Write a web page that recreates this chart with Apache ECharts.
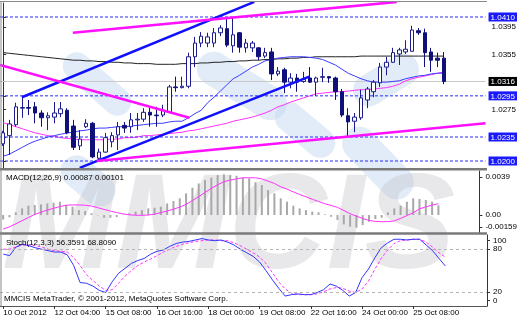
<!DOCTYPE html>
<html><head><meta charset="utf-8">
<script src="https://cdn.jsdelivr.net/npm/echarts@6/dist/echarts.min.js"></script>
<style>html,body{margin:0;padding:0;background:#fff}#c{width:520px;height:320px}</style>
</head><body><div id="c"></div><script>
const categories = ['10 Oct 20:00','11 Oct 00:00','11 Oct 04:00','11 Oct 08:00','11 Oct 12:00','11 Oct 16:00','11 Oct 20:00','12 Oct 00:00',
'12 Oct 04:00','12 Oct 08:00','12 Oct 12:00','12 Oct 16:00','12 Oct 20:00','14 Oct 20:00','15 Oct 00:00','15 Oct 04:00',
'15 Oct 08:00','15 Oct 12:00','15 Oct 16:00','15 Oct 20:00','16 Oct 00:00','16 Oct 04:00','16 Oct 08:00','16 Oct 12:00',
'16 Oct 16:00','16 Oct 20:00','17 Oct 00:00','17 Oct 04:00','17 Oct 08:00','17 Oct 12:00','17 Oct 16:00','17 Oct 20:00',
'18 Oct 00:00','18 Oct 04:00','18 Oct 08:00','18 Oct 12:00','18 Oct 16:00','18 Oct 20:00','19 Oct 00:00','19 Oct 04:00',
'19 Oct 08:00','19 Oct 12:00','19 Oct 16:00','19 Oct 20:00','22 Oct 00:00','22 Oct 04:00','22 Oct 08:00','22 Oct 12:00',
'22 Oct 16:00','22 Oct 20:00','23 Oct 00:00','23 Oct 04:00','23 Oct 08:00','23 Oct 12:00','23 Oct 16:00','23 Oct 20:00',
'24 Oct 00:00','24 Oct 04:00','24 Oct 08:00','24 Oct 12:00','24 Oct 16:00','24 Oct 20:00','25 Oct 00:00','25 Oct 04:00',
'25 Oct 08:00','25 Oct 12:00','25 Oct 16:00','25 Oct 20:00','26 Oct 00:00','26 Oct 04:00',
'26 Oct 08:00','26 Oct 12:00','26 Oct 16:00','26 Oct 20:00','29 Oct 00:00','29 Oct 04:00'];
const xTickLabels = ['10 Oct 2012','12 Oct 04:00','15 Oct 08:00','16 Oct 16:00','18 Oct 00:00','19 Oct 08:00','22 Oct 16:00','24 Oct 00:00','25 Oct 08:00'];

// [open, close, low, high]
const candles = [
[1.0225,1.0241,1.0222,1.0244],[1.0237,1.0254,1.0209,1.0260],[1.0253,1.0279,1.0250,1.0285],[1.0277,1.0278,1.0263,1.0295],
[1.0278,1.0277,1.0267,1.0289],[1.0279,1.0270,1.0255,1.0286],[1.0270,1.0263,1.0250,1.0274],[1.0263,1.0266,1.0245,1.0271],
[1.0264,1.0270,1.0255,1.0286],[1.0269,1.0276,1.0264,1.0286],[1.0274,1.0241,1.0239,1.0277],[1.0251,1.0220,1.0216,1.0260],
[1.0222,1.0232,1.0216,1.0245],[1.0250,1.0255,1.0248,1.0261],[1.0255,1.0206,1.0204,1.0257],[1.0204,1.0213,1.0202,1.0218],
[1.0213,1.0234,1.0212,1.0241],[1.0228,1.0237,1.0220,1.0242],[1.0238,1.0250,1.0216,1.0257],[1.0252,1.0248,1.0241,1.0257],
[1.0250,1.0260,1.0241,1.0270],[1.0260,1.0261,1.0245,1.0270],[1.0261,1.0271,1.0257,1.0277],[1.0271,1.0267,1.0250,1.0280],
[1.0267,1.0266,1.0250,1.0279],[1.0267,1.0274,1.0264,1.0282],[1.0271,1.0308,1.0270,1.0311],[1.0308,1.0307,1.0301,1.0323],
[1.0307,1.0309,1.0306,1.0323],[1.0309,1.0352,1.0306,1.0358],[1.0352,1.0372,1.0337,1.0381],[1.0372,1.0382,1.0366,1.0388],
[1.0372,1.0381,1.0366,1.0387],[1.0372,1.0387,1.0366,1.0394],[1.0387,1.0394,1.0382,1.0398],[1.0393,1.0369,1.0366,1.0409],
[1.0368,1.0384,1.0358,1.0409],[1.0387,1.0366,1.0358,1.0388],[1.0365,1.0372,1.0358,1.0378],[1.0365,1.0372,1.0359,1.0375],
[1.0365,1.0352,1.0347,1.0366],[1.0353,1.0358,1.0350,1.0365],[1.0359,1.0327,1.0318,1.0365],[1.0327,1.0331,1.0324,1.0337],
[1.0333,1.0315,1.0299,1.0336],[1.0315,1.0321,1.0306,1.0328],[1.0321,1.0315,1.0301,1.0327],[1.0316,1.0319,1.0314,1.0330],
[1.0321,1.0315,1.0314,1.0337],[1.0315,1.0321,1.0295,1.0323],[1.0322,1.0323,1.0315,1.0336],[1.0323,1.0321,1.0314,1.0324],
[1.0321,1.0301,1.0289,1.0323],[1.0301,1.0267,1.0264,1.0305],[1.0266,1.0257,1.0235,1.0277],[1.0258,1.0264,1.0242,1.0270],
[1.0263,1.0292,1.0260,1.0304],[1.0289,1.0305,1.0277,1.0308],[1.0301,1.0315,1.0293,1.0318],[1.0314,1.0337,1.0308,1.0343],
[1.0337,1.0344,1.0325,1.0352],[1.0344,1.0358,1.0343,1.0365],[1.0356,1.0362,1.0340,1.0365],[1.0359,1.0363,1.0356,1.0376],
[1.0360,1.0391,1.0359,1.0397],[1.0390,1.0387,1.0384,1.0394],[1.0387,1.0358,1.0337,1.0393],[1.0359,1.0347,1.0330,1.0365],
[1.0350,1.0347,1.0337,1.0358],[1.0350,1.0316,1.0312,1.0359]];

const maBlack = [1.0358,1.0357,1.0356,1.0355,1.0354,1.0353,1.0352,1.0351,1.0350,1.0349,
1.0348,1.0347,1.0347,1.0346,1.0346,1.0345,1.0345,1.0344,1.0344,1.0343,
1.0343,1.0342,1.0342,1.0342,1.0341,1.0341,1.0341,1.0341,1.0342,1.0342,
1.0342,1.0343,1.0343,1.0344,1.0344,1.0345,1.0345,1.0346,1.0346,1.0347,
1.0347,1.0348,1.0348,1.0349,1.0349,1.0350,1.0350,1.0351,1.0351,1.0352,
1.0352,1.0352,1.0352,1.0352,1.0352,1.0352,1.0353,1.0353,1.0353,1.0353,
1.0353,1.0353,1.0353,1.0353,1.0353,1.0353,1.0353,1.0353,1.0353,1.0353];
const maBlue = [1.0207,1.0210,1.0215,1.0220,1.0225,1.0229,1.0232,1.0235,1.0237,1.0239,
1.0241,1.0242,1.0244,1.0245,1.0247,1.0248,1.0248,1.0249,1.0250,1.0250,
1.0251,1.0252,1.0253,1.0254,1.0255,1.0255,1.0257,1.0258,1.0258,1.0263,
1.0269,1.0274,1.0285,1.0293,1.0302,1.0311,1.0320,1.0325,1.0331,1.0337,
1.0341,1.0346,1.0348,1.0350,1.0351,1.0352,1.0352,1.0352,1.0351,1.0350,
1.0348,1.0344,1.0340,1.0334,1.0328,1.0324,1.0320,1.0317,1.0315,1.0315,
1.0315,1.0316,1.0317,1.0320,1.0322,1.0324,1.0325,1.0327,1.0328,1.0328];
const maPink = [1.0256,1.0253,1.0250,1.0247,1.0244,1.0241,1.0239,1.0237,1.0236,1.0234,
1.0233,1.0232,1.0231,1.0231,1.0231,1.0231,1.0231,1.0232,1.0232,1.0234,
1.0234,1.0235,1.0237,1.0237,1.0238,1.0239,1.0240,1.0241,1.0242,1.0244,
1.0245,1.0247,1.0249,1.0251,1.0253,1.0255,1.0258,1.0260,1.0262,1.0264,
1.0267,1.0270,1.0274,1.0279,1.0282,1.0286,1.0289,1.0292,1.0295,1.0298,
1.0299,1.0300,1.0301,1.0301,1.0302,1.0303,1.0304,1.0304,1.0305,1.0306,
1.0307,1.0309,1.0312,1.0317,1.0320,1.0322,1.0324,1.0326,1.0328,1.0330];

// trend lines: [bar position, price] end points
const blueTrends = [[[2.93,1.0293],[39.3,1.0432]], [[11.98,1.0190],[47.9,1.0323]]];
const pinkTrends = [[[-0.5,1.0340],[29.15,1.0263]], [[10.9,1.0387],[61.6,1.0432]], [[14.64,1.0200],[75.5,1.0255]]];
const levelLines = [1.0410, 1.0295, 1.0235, 1.0200];
const bidPrice = 1.0316;
const priceAxisLabels = [1.0395, 1.0355, 1.0275];

const macdHist = [-0.0004,-0.0002,0.00024,0.00059,0.00083,0.00089,0.00094,0.00103,0.00109,0.00118,
0.00089,0.00074,0.00044,0.00035,0.00015,-0.00003,-0.00024,-0.00024,-0.00018,0.00002,
0.00015,0.0003,0.00044,0.00059,0.00065,0.00074,0.00103,0.00124,0.00148,0.00192,
0.00242,0.0028,0.0031,0.00331,0.00354,0.0036,0.00354,0.00348,0.00331,0.00325,
0.0029,0.00266,0.00221,0.00192,0.00148,0.00118,0.00083,0.00059,0.00044,0.0003,
0.00024,0.00006,-0.00015,-0.00044,-0.00083,-0.00103,-0.00112,-0.00089,-0.00059,-0.00035,
-0.00024,0.00024,0.00059,0.00083,0.00118,0.00148,0.00142,0.00133,0.00118,0.00087];
const macdSignal = [-0.00124,-0.00105,-0.00078,-0.0005,-0.00022,0.00005,0.00025,0.00044,0.0006,0.00075,
0.00087,0.0009,0.00089,0.00087,0.0008,0.00065,0.0005,0.00035,0.00022,0.0001,
0.00002,-0.00002,-0.00002,0.0,0.00008,0.00022,0.00035,0.00052,0.0007,0.00095,
0.00128,0.00162,0.002,0.00236,0.00268,0.00295,0.0031,0.0032,0.0033,0.0033,
0.0033,0.0032,0.003,0.0028,0.0025,0.0023,0.00205,0.00182,0.00162,0.0014,
0.0012,0.001,0.00085,0.00068,0.0004,0.00012,-0.0001,-0.0003,-0.00048,-0.00056,
-0.00059,-0.00058,-0.00052,-0.0003,-0.00005,0.0002,0.00055,0.00072,0.00088,0.00101];
const macdAxisLabels = ['0.0039','0.00','-0.00159'];

const stochK = [73,71,83,87,85,82,80,78,76,76,
72,57,33,32,28,22,19,34,46,53,
60,64,67,73,77,79,84,88,90,91,
93,95,93,92,93,90,86,80,75,70,
62,50,37,25,14,16,17,16,16,19,
23,31,28,22,14,19,40,52,68,82,
89,94,94,93,94,94,86,78,67,56.3591];
const stochD = [80,80,83,86,86,85,83,80,78,77,
76,68,57,44,36,28,22,23,32,42,
50,57,62,66,71,76,80,84,87,89,
91,92,93,93,92,92,89,85,80,75,
69,60,47,34,24,18,16,16,16,17,
20,24,26,25,21,19,24,35,52,67,
79,88,92,93,94,94,90,83,75,68.8090];
const stochAxisLabels = ['100','80','20','0'];
const stochLevels = [80, 20];

const FONT = "'Liberation Sans Narrow','Liberation Sans',Arial,sans-serif";
const chart = echarts.init(document.getElementById('c'), null, {renderer:'canvas'});

const catAxis = (gi, showLabels) => ({
  type:'category', gridIndex:gi, data:categories, boundaryGap:true,
  axisLine:{show:showLabels, lineStyle:{color:'#555', width:1}},
  axisTick:{show:showLabels, alignWithLabel:true, length:3, interval:(i)=>i%8===0&&i<=64, lineStyle:{color:'#333'}},
  axisLabel:{show:showLabels, interval:(i)=>i%8===0&&i<=64, formatter:(v,i)=>xTickLabels[Math.round(i/8)],
    align:'left', fontSize:8, color:'#000', margin:3, fontFamily:FONT, hideOverlap:false},
  splitLine:{show:false}
});
const axisCommon = {position:'right', splitLine:{show:false}, axisLine:{show:true, lineStyle:{color:'#333'}}};
const near = (a,b) => Math.abs(a-b) < 1e-7;
const allPriceTicks = [...levelLines, bidPrice, ...priceAxisLabels];

const trendSeries = (arr, color) => arr.map(d => ({
  type:'line', xAxisIndex:3, yAxisIndex:0, data:d, symbol:'none', z:6, silent:true,
  lineStyle:{color:color, width:2.5}, clip:true
}));
const hLine = (v, style, z) => ({type:'line', xAxisIndex:3, yAxisIndex:0, data:[[-0.5,v],[75.5,v]],
  symbol:'none', silent:true, z:z, lineStyle:style});

const rich = {
  b:{backgroundColor:'#1a1aff', color:'#fff', padding:[1,2,0,2], fontSize:8, fontFamily:FONT},
  k:{backgroundColor:'#000', color:'#fff', padding:[1,2,0,2], fontSize:8, fontFamily:FONT},
  p:{color:'#000', padding:[0,0,0,3], fontSize:8, fontFamily:FONT}
};

const logo = (cx, cy, len, wid, rot) => ({type:'rect', z:-6, silent:true, x:cx, y:cy, rotation:rot,
  shape:{x:-len/2, y:-wid/2, width:len, height:wid, r:wid/2}, style:{fill:'rgba(190,212,240,0.45)'}});

const option = {
  animation:false, backgroundColor:'#fff',
  textStyle:{fontFamily:FONT},
  grid:[
    {left:0, right:33, top:3, height:165},
    {left:0, right:33, top:171, height:62},
    {left:0, right:33, top:235, height:71}
  ],
  xAxis:[catAxis(0,false), catAxis(1,false), catAxis(2,true),
    {type:'value', gridIndex:0, min:-0.5, max:75.5, show:false}],
  yAxis:[
    Object.assign({type:'value', gridIndex:0, min:1.01898, max:1.04304,
      axisTick:{show:true, length:3, customValues:allPriceTicks, lineStyle:{color:'#333'}},
      axisLabel:{customValues:allPriceTicks, hideOverlap:false, margin:3, rich:rich,
        formatter:v=> levelLines.some(l=>near(l,v)) ? '{b|'+v.toFixed(4)+'}' : (near(v,bidPrice) ? '{k|'+v.toFixed(4)+'}' : '{p|'+v.toFixed(4)+'}')}}, axisCommon),
    Object.assign({type:'value', gridIndex:1, min:-0.00159, max:0.0039,
      axisTick:{show:true, length:3, customValues:[0.00337,0,-0.00108], lineStyle:{color:'#333'}},
      axisLabel:{customValues:[0.00337,0,-0.00108], hideOverlap:false, formatter:v=> v>0.002?macdAxisLabels[0]:(v<-0.0005?macdAxisLabels[2]:macdAxisLabels[1]),
        fontSize:8, color:'#000', margin:6, fontFamily:FONT}}, axisCommon),
    Object.assign({type:'value', gridIndex:2, min:0, max:100,
      axisTick:{show:true, length:3, customValues:[92,80,20,8], lineStyle:{color:'#333'}},
      axisLabel:{customValues:[92,80,20,8], hideOverlap:false, formatter:v=> v>90?stochAxisLabels[0]:(v>50?stochAxisLabels[1]:(v>15?stochAxisLabels[2]:stochAxisLabels[3])),
        fontSize:8, color:'#000', margin:6, fontFamily:FONT}}, axisCommon)
  ],
  series:[
    hLine(bidPrice, {color:'#c8c8c8', width:1, type:'solid'}, 1),
    ...levelLines.map(v => hLine(v, {color:'#2a2aff', width:1, type:[3,2]}, 3)),
    {type:'line', xAxisIndex:0, yAxisIndex:0, data:maBlack, symbol:'none', z:2, silent:true, lineStyle:{color:'#222', width:1}},
    {type:'line', xAxisIndex:0, yAxisIndex:0, data:maPink, symbol:'none', z:2, silent:true, lineStyle:{color:'#ff33ff', width:1}},
    {type:'line', xAxisIndex:0, yAxisIndex:0, data:maBlue, symbol:'none', z:2, silent:true, lineStyle:{color:'#3c3cff', width:1}},
    {type:'candlestick', xAxisIndex:0, yAxisIndex:0, data:candles, barWidth:4, z:4, silent:true,
      itemStyle:{color:'#ffffff', color0:'#10107a', borderColor:'#1c1c8c', borderColor0:'#10107a', borderWidth:1}},
    ...trendSeries(blueTrends, '#1010ff'),
    ...trendSeries(pinkTrends, '#ff10ff'),
    {type:'bar', xAxisIndex:1, yAxisIndex:1, data:macdHist, barWidth:2, silent:true, itemStyle:{color:'#a8a8a8'}},
    {type:'line', xAxisIndex:1, yAxisIndex:1, data:macdSignal, symbol:'none', silent:true, lineStyle:{color:'#ff33ff', width:1}},
    {type:'line', xAxisIndex:2, yAxisIndex:2, data:stochD, symbol:'none', silent:true, z:3, lineStyle:{color:'#ff33ff', width:1, type:[3,2]},
      markLine:{silent:true, symbol:['none','none'], label:{show:false},
        data:stochLevels.map(v=>({yAxis:v})), lineStyle:{color:'#b4b4b4', type:[3,3], width:1}}},
    {type:'line', xAxisIndex:2, yAxisIndex:2, data:stochK, symbol:'none', silent:true, z:4, lineStyle:{color:'#3535ff', width:1}}
  ],
  graphic:[
    logo(97, 84, 82, 28, -0.72),
    logo(242, 86, 100, 34, -0.55),
    logo(88, 181, 62, 32, -0.7),
    logo(378, 163, 88, 34, -0.8),
    logo(386, 80, 72, 32, 0.55),
    logo(305, 130, 70, 30, -0.7),
    {type:'text', z:-5, silent:true, left:2, top:162, style:{text:'MMCIS', font:'italic bold 136px "Liberation Sans",Arial,sans-serif', fill:'rgba(195,195,200,0.38)'}},
    {type:'rect', z:50, silent:true, shape:{x:0, y:168, width:487, height:2.5}, style:{fill:'#7a7a7a'}},
    {type:'rect', z:50, silent:true, shape:{x:0, y:232.3, width:487, height:2.5}, style:{fill:'#7a7a7a'}},
    {type:'line', z:50, silent:true, shape:{x1:0, y1:1.5, x2:487, y2:1.5}, style:{stroke:'#8a8a8a', lineWidth:1}},
    {type:'line', z:50, silent:true, shape:{x1:1, y1:1, x2:1, y2:306}, style:{stroke:'#8a8a8a', lineWidth:1}},
    {type:'text', z:60, silent:true, left:6, top:174, style:{text:'MACD(12,26,9) '+macdHist[macdHist.length-1].toFixed(5)+' '+macdSignal[macdSignal.length-1].toFixed(5), font:'8px '+FONT, fill:'#000'}},
    {type:'text', z:60, silent:true, left:6, top:238.5, style:{text:'Stoch(12,3,3) '+stochK[stochK.length-1].toFixed(4)+' '+stochD[stochD.length-1].toFixed(4), font:'8px '+FONT, fill:'#000'}},
    {type:'text', z:60, silent:true, left:4, top:294.5, style:{text:'MMCIS MetaTrader, \u00a9 2001-2012, MetaQuotes Software Corp.', font:'8px '+FONT, fill:'#000'}}
  ]
};
chart.setOption(option);
</script></body></html>
